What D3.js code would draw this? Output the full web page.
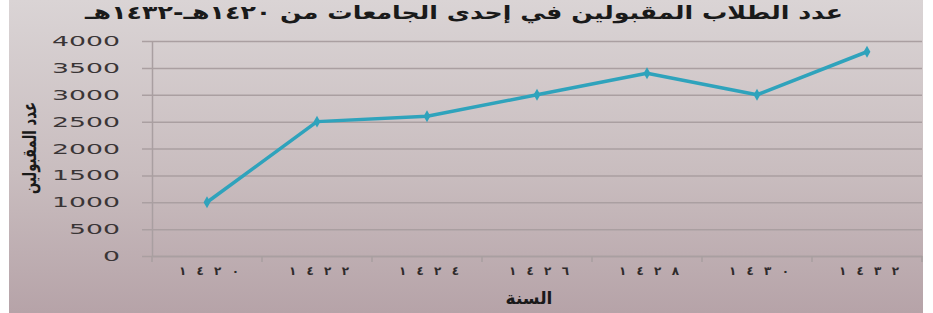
<!DOCTYPE html>
<html>
<head>
<meta charset="utf-8">
<script src="https://cdn.jsdelivr.net/npm/d3@7"></script>
<style>
  body { margin: 0; background: #fff; }
  svg { display: block; }
</style>
</head>
<body>
<div id="chart"></div>
<script>
// data
var years = ["١٤٢٠", "١٤٢٢", "١٤٢٤", "١٤٢٦", "١٤٢٨", "١٤٣٠", "١٤٣٢"];
var accepted = [1000, 2500, 2600, 3000, 3400, 3000, 3800];
var yTicks = [0, 500, 1000, 1500, 2000, 2500, 3000, 3500, 4000];

var titleText = "عدد الطلاب المقبولين في إحدى الجامعات من ١٤٢٠هـ-١٤٣٢هـ";
var yTitle = "عدد المقبولين";
var xTitle = "السنة";

drawChart();

function drawChart() {
  var svgWidth = 933, svgHeight = 313;
  var margin = {top: 41, right: 11, bottom: 57, left: 152};

  var svg = d3.select("#chart")
    .append("svg")
    .attr("width", svgWidth)
    .attr("height", svgHeight);

  // background gradient
  var grad = svg.append("defs").append("linearGradient")
    .attr("id", "bg")
    .attr("x1", 0).attr("y1", 0).attr("x2", 0).attr("y2", 1);
  grad.append("stop").attr("offset", "0%").attr("stop-color", "#dad4d5");
  grad.append("stop").attr("offset", "55%").attr("stop-color", "#c9bdbf");
  grad.append("stop").attr("offset", "100%").attr("stop-color", "#b6a3a8");

  svg.append("rect")
    .attr("x", 9).attr("y", 0)
    .attr("width", 914).attr("height", svgHeight)
    .attr("fill", "url(#bg)");

  var xScale = d3.scaleBand()
    .domain(years)
    .range([margin.left, svgWidth - margin.right])
    .padding(0);

  var yScale = d3.scaleLinear()
    .domain([0, 4000])
    .range([svgHeight - margin.bottom, margin.top]);

  // gridlines + y axis
  var yAxis = svg.append("g")
    .attr("transform", "translate(" + margin.left + ",0)")
    .call(d3.axisLeft(yScale)
      .tickValues(yTicks)
      .tickSizeInner(-(svgWidth - margin.right - margin.left))
      .tickSizeOuter(0)
      .tickFormat(""));
  yAxis.select(".domain").attr("stroke", "#a99fa1").attr("stroke-width", 1.5);
  yAxis.selectAll(".tick line")
    .attr("x1", -10)
    .attr("stroke", "#aa9fa1")
    .attr("stroke-width", 1.5);

  // y tick labels (wide font look)
  svg.append("g").selectAll("text")
    .data(yTicks)
    .enter()
    .append("text")
    .attr("x", 120)
    .attr("y", function(d) { return yScale(d) + 5; })
    .attr("text-anchor", "end")
    .attr("font-family", "DejaVu Sans")
    .attr("font-size", 14.5)
    .attr("fill", "#3a3536")
    .attr("textLength", function(d) { return String(d).length * 17; })
    .attr("lengthAdjust", "spacingAndGlyphs")
    .text(function(d) { return d; });

  // x axis
  var xAxis = svg.append("g")
    .attr("transform", "translate(0," + yScale(0) + ")")
    .call(d3.axisBottom(xScale).tickSize(0).tickFormat(""));
  xAxis.select(".domain").attr("stroke", "#a99fa1").attr("stroke-width", 1.5);

  // tick marks between categories
  var bounds = years.map(function(d) { return xScale(d); });
  bounds.push(xScale(years[years.length - 1]) + xScale.bandwidth());
  svg.append("g").selectAll("line")
    .data(bounds)
    .enter()
    .append("line")
    .attr("x1", function(d) { return d; })
    .attr("x2", function(d) { return d; })
    .attr("y1", yScale(0))
    .attr("y2", yScale(0) + 6)
    .attr("stroke", "#a99fa1")
    .attr("stroke-width", 1.5);

  // x tick labels
  svg.append("g").selectAll("text")
    .data(years)
    .enter()
    .append("text")
    .attr("x", function(d) { return xScale(d) + xScale.bandwidth() / 2 + 2; })
    .attr("y", yScale(0) + 19)
    .attr("text-anchor", "middle")
    .attr("font-family", "DejaVu Sans")
    .attr("font-weight", "bold")
    .attr("font-size", 12)
    .attr("textLength", 60)
    .attr("lengthAdjust", "spacing")
    .attr("fill", "#2e2a2b")
    .text(function(d) { return d; });

  // line
  var line = d3.line()
    .x(function(d, i) { return xScale(years[i]) + xScale.bandwidth() / 2; })
    .y(function(d) { return yScale(d); });

  svg.append("path")
    .datum(accepted)
    .attr("d", line)
    .attr("fill", "none")
    .attr("stroke", "#2fa3bc")
    .attr("stroke-width", 3.5)
    .attr("stroke-linejoin", "round");

  svg.append("g").selectAll("path")
    .data(accepted)
    .enter()
    .append("path")
    .attr("transform", function(d, i) {
      return "translate(" + (xScale(years[i]) + xScale.bandwidth() / 2) + "," + yScale(d) + ")";
    })
    .attr("d", d3.symbol().type(d3.symbolDiamond).size(40))
    .attr("fill", "#2fa3bc");

  // titles
  svg.append("text")
    .attr("x", 464)
    .attr("y", 19)
    .attr("text-anchor", "middle")
    .attr("direction", "rtl")
    .attr("font-family", "DejaVu Sans")
    .attr("font-weight", "bold")
    .attr("font-size", 19)
    .attr("textLength", 758)
    .attr("lengthAdjust", "spacingAndGlyphs")
    .attr("fill", "#1a1a1a")
    .text(titleText);

  svg.append("text")
    .attr("transform", "translate(36,148) rotate(-90)")
    .attr("text-anchor", "middle")
    .attr("direction", "rtl")
    .attr("font-family", "DejaVu Sans")
    .attr("font-weight", "bold")
    .attr("font-size", 19)
    .attr("textLength", 92)
    .attr("lengthAdjust", "spacingAndGlyphs")
    .attr("fill", "#1a1a1a")
    .text(yTitle);

  svg.append("text")
    .attr("x", 529)
    .attr("y", 304)
    .attr("text-anchor", "middle")
    .attr("direction", "rtl")
    .attr("font-family", "DejaVu Sans")
    .attr("font-weight", "bold")
    .attr("font-size", 17)
    .attr("fill", "#1a1a1a")
    .text(xTitle);
}
</script>
</body>
</html>
